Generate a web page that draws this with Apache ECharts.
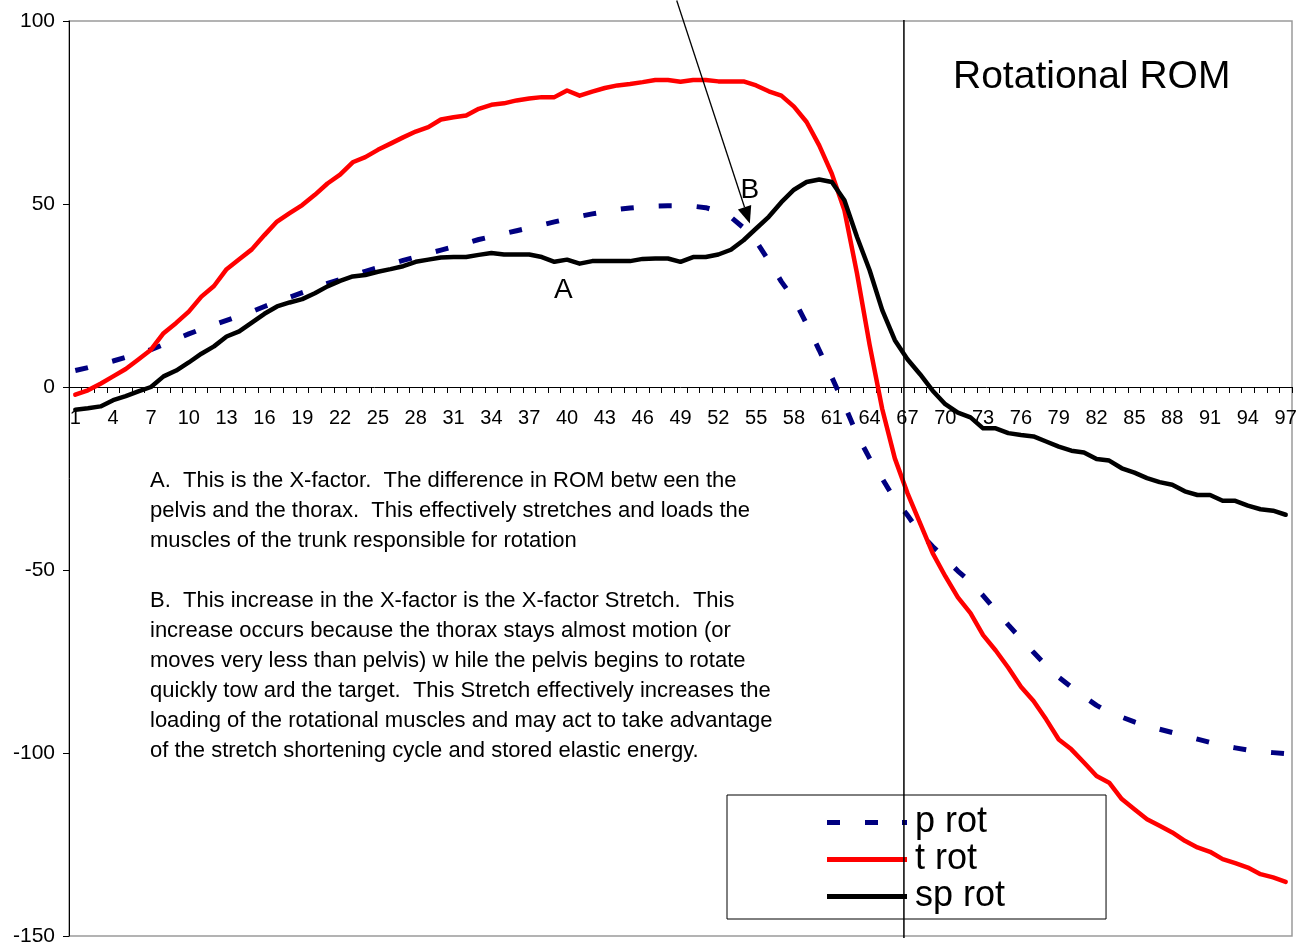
<!DOCTYPE html>
<html><head><meta charset="utf-8">
<script src="https://cdn.jsdelivr.net/npm/echarts@6/dist/echarts.min.js"></script>
<style>html,body{margin:0;padding:0;background:#fff}#c{width:1303px;height:942px}</style>
</head><body><div id="c"></div>
<script>
const categories = ['1','2','3','4','5','6','7','8','9','10','11','12','13','14','15','16','17','18','19','20','21','22','23','24','25','26','27','28','29','30','31','32','33','34','35','36','37','38','39','40','41','42','43','44','45','46','47','48','49','50','51','52','53','54','55','56','57','58','59','60','61','62','63','64','65','66','67','68','69','70','71','72','73','74','75','76','77','78','79','80','81','82','83','84','85','86','87','88','89','90','91','92','93','94','95','96','97'];

const pRot = [4.5,5.3,6.2,7.1,8.1,9.1,10.2,11.6,13.1,14.5,15.8,17.0,18.2,19.4,20.6,22.0,23.3,24.5,25.8,27.0,28.3,29.4,30.5,31.6,32.6,33.6,34.6,35.5,36.5,37.4,38.3,39.3,40.3,41.1,41.9,42.7,43.5,44.3,45.1,45.9,46.6,47.3,47.9,48.5,48.9,49.2,49.4,49.5,49.5,49.4,49.0,48.0,46.4,43.5,39.8,34.5,28.8,24.0,17.2,10.1,2.7,-4.9,-13.0,-19.5,-25.0,-30.8,-35.0,-39.9,-43.6,-46.8,-50.3,-53.2,-57.0,-61.0,-65.0,-68.8,-72.5,-76.1,-79.3,-82.0,-84.6,-87.0,-88.9,-90.2,-91.5,-92.6,-93.5,-94.4,-95.3,-96.2,-97.1,-98.0,-98.6,-99.2,-99.6,-99.9,-100.2];

const tRot = [-2.1,-0.9,0.9,2.9,4.9,7.5,10.2,14.7,17.5,20.6,24.7,27.6,32.2,34.9,37.6,41.5,45.2,47.5,49.7,52.5,55.6,58.0,61.4,62.8,64.8,66.5,68.2,69.8,71.0,73.1,73.7,74.2,76.0,77.1,77.5,78.3,78.8,79.2,79.2,81.0,79.6,80.7,81.7,82.4,82.8,83.3,83.9,83.9,83.4,83.9,83.9,83.5,83.5,83.5,82.4,80.8,79.6,76.6,72.4,66.0,58.3,48.3,31.0,11.5,-6.0,-19.5,-29.0,-37.2,-45.4,-51.7,-57.5,-61.8,-67.8,-72.0,-76.7,-81.9,-85.8,-90.8,-96.3,-99.0,-102.6,-106.3,-108.1,-112.6,-115.4,-118.1,-119.9,-121.7,-124.0,-125.8,-127.0,-129.0,-130.1,-131.3,-133.1,-134.0,-135.2];

const spRot = [-6.2,-5.8,-5.3,-3.6,-2.5,-1.2,0,2.9,4.5,6.7,9.1,11.1,13.8,15.2,17.6,20.0,22.0,23.1,24.0,25.6,27.5,29.0,30.2,30.6,31.5,32.2,33.0,34.2,34.8,35.4,35.5,35.5,36.1,36.6,36.2,36.2,36.2,35.5,34.2,34.8,33.7,34.4,34.4,34.4,34.4,35.0,35.1,35.1,34.2,35.5,35.5,36.2,37.5,40.1,43.3,46.5,50.5,53.9,56.0,56.7,56.0,51.0,41.0,31.9,21.0,12.8,7.6,3.5,-1.0,-4.7,-7.0,-8.3,-11.3,-11.3,-12.6,-13.1,-13.5,-14.9,-16.3,-17.4,-17.9,-19.7,-20.1,-22.2,-23.4,-24.9,-26.0,-26.7,-28.5,-29.5,-29.5,-31.1,-31.1,-32.4,-33.4,-33.8,-34.9];

const yTickValues = [-150, -100, -50, 0, 50, 100];
const seriesNames = ['p rot', 't rot', 'sp rot'];
const chartTitle = 'Rotational ROM';
const noteA = 'A.  This is the X-factor.  The difference in ROM betw een the\npelvis and the thorax.  This effectively stretches and loads the\nmuscles of the trunk responsible for rotation';
const noteB = 'B.  This increase in the X-factor is the X-factor Stretch.  This\nincrease occurs because the thorax stays almost motion (or\nmoves very less than pelvis) w hile the pelvis begins to rotate\nquickly tow ard the target.  This Stretch effectively increases the\nloading of the rotational muscles and may act to take advantage\nof the stretch shortening cycle and stored elastic energy.';

const FONT = '"Liberation Sans", Arial, sans-serif';
const chart = echarts.init(document.getElementById('c'), null, {renderer: 'canvas'});

const option = {
  backgroundColor: '#fff',
  animation: false,
  textStyle: {fontFamily: FONT, color: '#000'},
  grid: {left: 69, right: 11, top: 21, bottom: 6, show: true, borderColor: '#9a9a9a', borderWidth: 1.5,
         backgroundColor: 'transparent', outerBoundsMode: 'none', containLabel: false},
  legend: {
    orient: 'vertical', left: 727, top: 795,
    padding: [9, 101, 4, 100],
    borderColor: '#000', borderWidth: 1, backgroundColor: '#fff',
    itemWidth: 80, itemHeight: 5, itemGap: 0,
    textStyle: {fontSize: 36, fontFamily: FONT, color: '#000', lineHeight: 37, padding: [0, 0, 0, 3]},
    data: [
      {name: seriesNames[0], icon: 'path://M0,0h13v5h-13z M38,0h13v5h-13z M75,0h5v5h-5z'},
      {name: seriesNames[1], icon: 'rect'},
      {name: seriesNames[2], icon: 'rect'}
    ]
  },
  xAxis: {
    type: 'category', data: categories, boundaryGap: true, position: 'bottom', offset: 0,
    axisLine: {onZero: false, lineStyle: {color: '#000', width: 1}},
    axisTick: {show: true, interval: 0, length: 6, lineStyle: {color: '#000'}},
    axisLabel: {interval: 2, fontSize: 20, color: '#000', fontFamily: FONT, margin: 21},
    splitLine: {show: false}
  },
  yAxis: {
    type: 'value',
    min: yTickValues[0], max: yTickValues[yTickValues.length - 1],
    interval: yTickValues[1] - yTickValues[0],
    axisLine: {show: true, onZero: false, lineStyle: {color: '#000', width: 1}},
    axisTick: {show: true, length: 6, lineStyle: {color: '#000'}},
    axisLabel: {fontSize: 21, color: '#000', fontFamily: FONT, margin: 14},
    splitLine: {show: false}
  },
  series: [
    {name: seriesNames[0], type: 'line', data: pRot, symbol: 'none', z: 2,
     lineStyle: {color: '#000080', width: 5, type: [13, 25], cap: 'butt'}, itemStyle: {color: '#000080'}},
    {name: seriesNames[1], type: 'line', data: tRot, symbol: 'none', z: 3,
     lineStyle: {color: '#ff0000', width: 4.5, cap: 'round', join: 'round'}, itemStyle: {color: '#ff0000'}},
    {name: seriesNames[2], type: 'line', data: spRot, symbol: 'none', z: 4,
     lineStyle: {color: '#000000', width: 4.5, cap: 'round', join: 'round'}, itemStyle: {color: '#000000'}}
  ]
};
chart.setOption(option);

// move the category axis up to the zero line (line, ticks and labels together)
const yZero = chart.convertToPixel({yAxisIndex: 0}, 0);
const yMin = chart.convertToPixel({yAxisIndex: 0}, yTickValues[0]);
chart.setOption({xAxis: {offset: -(yMin - yZero)}});

// helper: pixel position for a fractional (1-based) category and a value
function px(cat, val) {
  const i0 = Math.floor(cat - 1), f = (cat - 1) - i0;
  const p0 = chart.convertToPixel({gridIndex: 0}, [i0, val]);
  const p1 = chart.convertToPixel({gridIndex: 0}, [i0 + 1, val]);
  return [p0[0] + f * (p1[0] - p0[0]), p0[1]];
}

const vTop = px(66.72, 100), vBot = px(66.72, -150);
const aFrom = px(48.7, 105.6), aTo = px(54.5, 44.7);
const dx = aTo[0] - aFrom[0], dy = aTo[1] - aFrom[1];
const len = Math.sqrt(dx * dx + dy * dy), ux = dx / len, uy = dy / len;
const hl = 17, hw = 7;
const base = [aTo[0] - ux * hl, aTo[1] - uy * hl];
const lblA = px(39.7, 26.4), lblB = px(54.5, 53.7);

chart.setOption({
  graphic: [
    {type: 'line', z: 50, shape: {x1: vTop[0], y1: vTop[1] - 1, x2: vBot[0], y2: vBot[1] + 2}, style: {stroke: '#000', lineWidth: 1.5}},
    {type: 'line', z: 50, shape: {x1: aFrom[0], y1: aFrom[1], x2: base[0], y2: base[1]}, style: {stroke: '#000', lineWidth: 1.3}},
    {type: 'polygon', z: 50, shape: {points: [aTo, [base[0] - uy * hw, base[1] + ux * hw], [base[0] + uy * hw, base[1] - ux * hw]]}, style: {fill: '#000'}},
    {type: 'text', z: 50, x: 953, y: 77, style: {text: chartTitle, fontSize: 39, fontFamily: FONT, fill: '#000', verticalAlign: 'middle', align: 'left'}},
    {type: 'text', z: 50, x: lblA[0], y: lblA[1], style: {text: 'A', fontSize: 28, fontFamily: FONT, fill: '#000', verticalAlign: 'middle', align: 'center'}},
    {type: 'text', z: 50, x: lblB[0], y: lblB[1], style: {text: 'B', fontSize: 28, fontFamily: FONT, fill: '#000', verticalAlign: 'middle', align: 'center'}},
    {type: 'text', z: 50, x: 150, y: 466, style: {text: noteA, fontSize: 22, lineHeight: 30, fontFamily: FONT, fill: '#000', verticalAlign: 'top', align: 'left'}},
    {type: 'text', z: 50, x: 150, y: 586, style: {text: noteB, fontSize: 22, lineHeight: 30, fontFamily: FONT, fill: '#000', verticalAlign: 'top', align: 'left'}}
  ]
});
</script></body></html>
